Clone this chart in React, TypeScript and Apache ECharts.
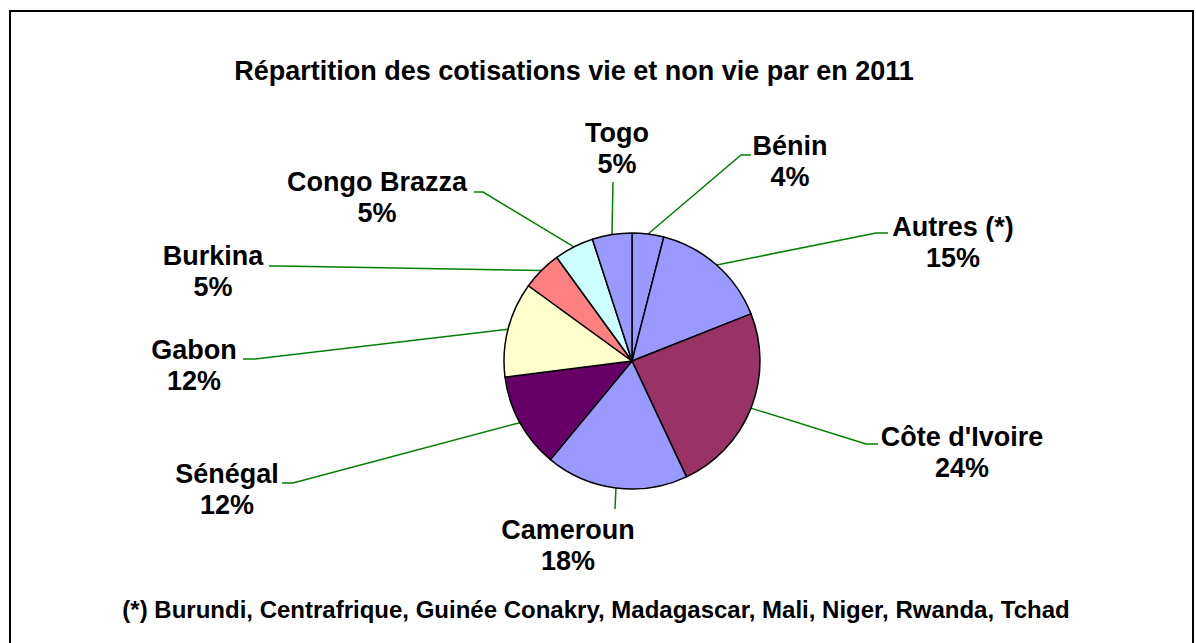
import React, { useEffect, useRef } from "react";
import * as echarts from "echarts";

const TITLE = "Répartition des cotisations vie et non vie par en 2011";
const FOOTNOTE = "(*) Burundi, Centrafrique, Guinée Conakry, Madagascar, Mali, Niger, Rwanda, Tchad";

const CATEGORIES = [
  "Bénin",
  "Autres (*)",
  "Côte d'Ivoire",
  "Cameroun",
  "Sénégal",
  "Gabon",
  "Burkina",
  "Congo Brazza",
  "Togo",
];
const VALUES = [4, 15, 24, 18, 12, 12, 5, 5, 5];
const COLORS = [
  "#9999FF",
  "#9999FF",
  "#993366",
  "#9999FF",
  "#660066",
  "#FFFFCC",
  "#FF8080",
  "#CCFFFF",
  "#9999FF",
];

// Label placement (layout only): block centre and leader-line bend / end points
const LABEL_LAYOUT = [
  { cx: 790, cy: 161, mid: [741, 155], end: [751, 155] },
  { cx: 953, cy: 242, mid: [876, 233], end: [888, 233] },
  { cx: 962, cy: 452, mid: [866, 444], end: [878, 444] },
  { cx: 568, cy: 545, mid: [615, 509], end: [615, 509] },
  { cx: 227, cy: 489, mid: [293, 483], end: [282, 483] },
  { cx: 194, cy: 365, mid: [255, 359], end: [243, 359] },
  { cx: 213, cy: 271, mid: [280, 266], end: [269, 266] },
  { cx: 377, cy: 197, mid: [483, 192], end: [474, 192] },
  { cx: 617, cy: 148, mid: [613, 182], end: [613, 182] },
];

const FONT = "'Liberation Sans', Arial, sans-serif";

export default function App() {
  const ref = useRef<HTMLDivElement>(null);

  useEffect(() => {
    if (!ref.current) return;
    const chart = echarts.init(ref.current, undefined, { renderer: "svg" });
    const data = CATEGORIES.map((name, i) => ({
      name,
      value: VALUES[i],
      itemStyle: { color: COLORS[i] },
    }));
    chart.setOption({
      animation: false,
      backgroundColor: "#ffffff",
      graphic: [
        {
          type: "rect",
          shape: { x: 10, y: 11, width: 1183, height: 700 },
          style: { fill: "none", stroke: "#000000", lineWidth: 2 },
          z: 0,
        },
        {
          type: "text",
          x: 574,
          y: 71,
          style: {
            text: TITLE,
            fill: "#000000",
            font: `bold 27px ${FONT}`,
            textAlign: "center",
            textVerticalAlign: "middle",
          },
        },
        {
          type: "text",
          x: 596,
          y: 609,
          style: {
            text: FOOTNOTE,
            fill: "#000000",
            font: `bold 24px ${FONT}`,
            textAlign: "center",
            textVerticalAlign: "middle",
          },
        },
      ],
      series: [
        {
          type: "pie",
          center: [632, 361],
          radius: 128,
          startAngle: 90,
          clockwise: true,
          avoidLabelOverlap: false,
          silent: true,
          itemStyle: { borderColor: "#000000", borderWidth: 1.5 },
          emphasis: { disabled: true },
          label: {
            show: true,
            position: "outside",
            formatter: (p: any) => `${p.name}\n${p.value}%`,
            color: "#000000",
            fontFamily: FONT,
            fontWeight: "bold",
            fontSize: 27,
            lineHeight: 31,
            align: "center",
          },
          labelLine: {
            show: true,
            length: 20,
            length2: 10,
            lineStyle: { color: "#008000", width: 1.5 },
          },
          labelLayout: (params: any) => {
            const L = LABEL_LAYOUT[params.dataIndex];
            const start =
              params.labelLinePoints && params.labelLinePoints[0]
                ? params.labelLinePoints[0]
                : L.mid;
            return {
              x: L.cx,
              y: L.cy,
              align: "center",
              verticalAlign: "middle",
              labelLinePoints: [start, L.mid, L.end],
            };
          },
          data,
        },
      ],
    });
    return () => chart.dispose();
  }, []);

  return (
    <div
      ref={ref}
      style={{
        position: "fixed",
        left: 0,
        top: 0,
        width: 1196,
        height: 643,
        background: "#ffffff",
      }}
    />
  );
}
